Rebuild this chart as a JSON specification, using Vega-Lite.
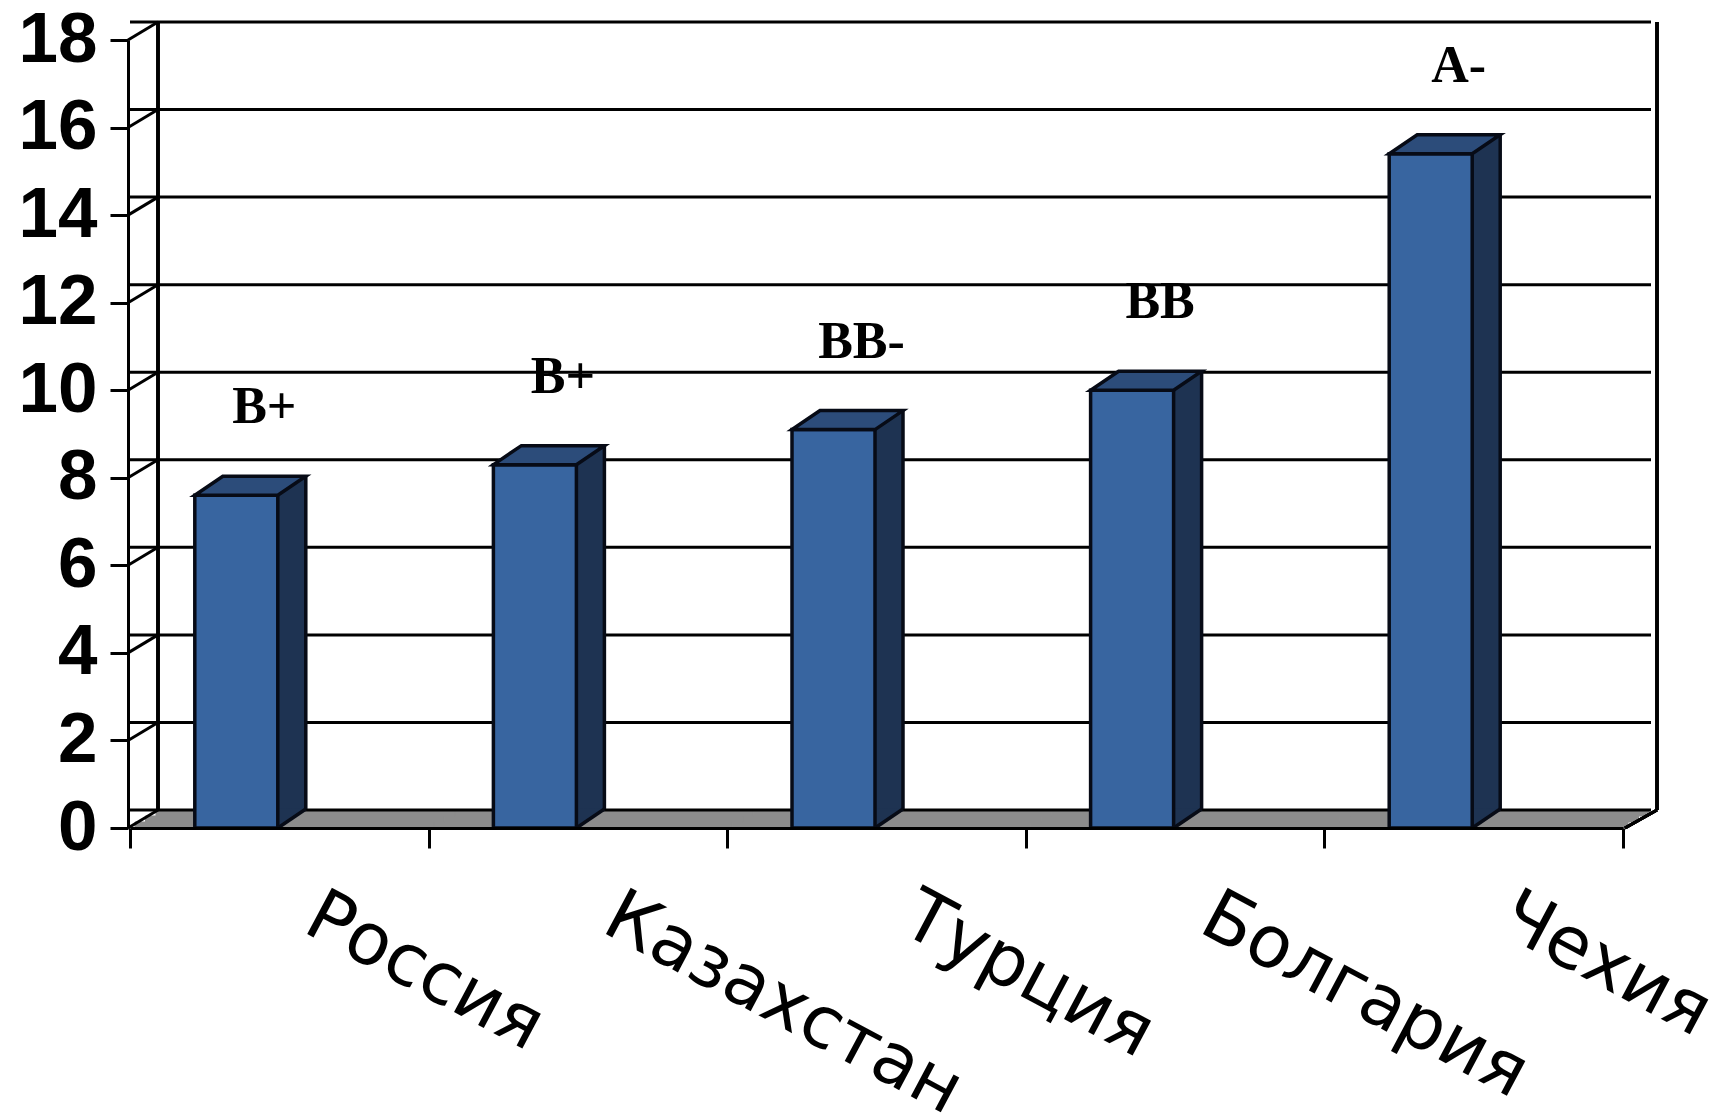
{
  "$schema": "https://vega.github.io/schema/vega-lite/v6.json",
  "autosize": "none",
  "width": 1493,
  "height": 788,
  "padding": {"left": 130, "top": 40, "right": 106, "bottom": 285},
  "background": "#ffffff",
  "config": {"view": {"stroke": null}, "axis": {"grid": false}},
  "datasets": {
    "ratings": [
      {"country": "Россия", "value": 7.6, "rating": "B+"},
      {"country": "Казахстан", "value": 8.3, "rating": "B+"},
      {"country": "Турция", "value": 9.1, "rating": "BB-"},
      {"country": "Болгария", "value": 10.0, "rating": "BB"},
      {"country": "Чехия", "value": 15.4, "rating": "A-"}
    ],
    "ticks": [
      {"t": 0}, {"t": 2}, {"t": 4}, {"t": 6}, {"t": 8},
      {"t": 10}, {"t": 12}, {"t": 14}, {"t": 16}, {"t": 18}
    ]
  },
  "data": {"name": "ratings"},
  "layer": [
    {
      "mark": {"type": "rect", "fill": "#8c8c8c", "stroke": "#8c8c8c", "strokeWidth": 1, "yOffset": 0, "y2Offset": -6, "xOffset": 5, "x2Offset": 5},
      "encoding": {
        "x": {"field": "country", "type": "nominal", "sort": null},
        "y": {"datum": 0, "type": "quantitative"},
        "y2": {"datum": 0}
      }
    },
    {
      "mark": {"type": "rect", "fill": "#8c8c8c", "stroke": "#8c8c8c", "strokeWidth": 1, "yOffset": -6, "y2Offset": -12, "xOffset": 15.5, "x2Offset": 15.5},
      "encoding": {
        "x": {"field": "country", "type": "nominal", "sort": null},
        "y": {"datum": 0, "type": "quantitative"},
        "y2": {"datum": 0}
      }
    },
    {
      "mark": {"type": "rect", "fill": "#8c8c8c", "stroke": "#8c8c8c", "strokeWidth": 1, "yOffset": -12, "y2Offset": -18, "xOffset": 26, "x2Offset": 26},
      "encoding": {
        "x": {"field": "country", "type": "nominal", "sort": null},
        "y": {"datum": 0, "type": "quantitative"},
        "y2": {"datum": 0}
      }
    },
    {
      "data": {"name": "ticks"},
      "mark": {"type": "rule", "color": "#000000", "strokeWidth": 3, "xOffset": 28, "x2Offset": 34, "yOffset": -18},
      "encoding": {
        "y": {"field": "t", "type": "quantitative"}
      }
    },
    {
      "data": {"name": "ticks"},
      "mark": {"type": "point", "shape": "M -2 0 L 28 -18", "size": 4, "filled": false, "stroke": "#000000", "strokeWidth": 3, "opacity": 1},
      "encoding": {
        "x": {"datum": "Россия", "type": "nominal", "bandPosition": 0},
        "y": {"field": "t", "type": "quantitative"}
      }
    },
    {
      "mark": {"type": "point", "shape": "M 2 0 L 34 -18", "size": 4, "filled": false, "stroke": "#000000", "strokeWidth": 3, "opacity": 1},
      "encoding": {
        "x": {"datum": "Чехия", "type": "nominal", "bandPosition": 1},
        "y": {"datum": 0, "type": "quantitative"}
      }
    },
    {
      "mark": {"type": "rule", "color": "#000000", "strokeWidth": 3, "xOffset": 28, "yOffset": -18, "y2Offset": -18},
      "encoding": {
        "x": {"datum": "Россия", "type": "nominal", "bandPosition": 0},
        "y": {"datum": 0, "type": "quantitative"},
        "y2": {"datum": 18}
      }
    },
    {
      "mark": {"type": "rule", "color": "#000000", "strokeWidth": 3, "xOffset": 34, "yOffset": -18, "y2Offset": -18},
      "encoding": {
        "x": {"datum": "Чехия", "type": "nominal", "bandPosition": 1},
        "y": {"datum": 0, "type": "quantitative"},
        "y2": {"datum": 18}
      }
    },
    {
      "mark": {"type": "bar", "width": 28, "xOffset": 12.5, "yOffset": -19, "y2Offset": -19, "fill": "#1e3352"},
      "encoding": {
        "x": {"field": "country", "type": "nominal", "sort": null},
        "y": {"field": "value", "type": "quantitative"},
        "y2": {"datum": 0}
      }
    },
    {
      "mark": {"type": "point", "shape": "M -2.5 0.5 L 26.5 -19 L -2.5 -19.5 Z", "size": 4, "filled": true, "fill": "#1e3352", "strokeWidth": 0, "opacity": 1},
      "encoding": {
        "x": {"field": "country", "type": "nominal", "sort": null},
        "y": {"datum": 0, "type": "quantitative"}
      }
    },
    {
      "mark": {"type": "rule", "color": "#070b16", "strokeWidth": 3.5, "xOffset": 26.5, "yOffset": -19, "y2Offset": -19},
      "encoding": {
        "x": {"field": "country", "type": "nominal", "sort": null},
        "y": {"field": "value", "type": "quantitative"},
        "y2": {"datum": 0}
      }
    },
    {
      "mark": {"type": "point", "shape": "M -1.5 0 L 26.5 -19", "size": 4, "filled": false, "stroke": "#070b16", "strokeWidth": 3.5, "opacity": 1},
      "encoding": {
        "x": {"field": "country", "type": "nominal", "sort": null},
        "y": {"datum": 0, "type": "quantitative"}
      }
    },
    {
      "mark": {"type": "bar", "width": 83, "xOffset": -43, "fill": "#3865a0", "stroke": "#070b16", "strokeWidth": 3.5},
      "encoding": {
        "x": {
          "field": "country", "type": "nominal", "sort": null, "title": null,
          "scale": {"paddingInner": 0, "paddingOuter": 0},
          "axis": {
            "zindex": 1, "tickBand": "extent",
            "domainColor": "#000000", "domainWidth": 3,
            "tickColor": "#000000", "tickWidth": 3, "tickSize": 20,
            "labelAngle": 28, "labelAlign": "left", "labelBaseline": "top",
            "labelOffset": 48, "labelPadding": 32,
            "labelFont": "DejaVu Sans", "labelFontSize": 72, "labelColor": "#000000",
            "labelLimit": 3000, "labelOverlap": false, "labelBound": false
          }
        },
        "y": {
          "field": "value", "type": "quantitative", "title": null,
          "scale": {"domain": [0, 18], "nice": false},
          "axis": {
            "zindex": 1, "values": [0, 2, 4, 6, 8, 10, 12, 14, 16, 18], "offset": 2,
            "domainColor": "#000000", "domainWidth": 3,
            "tickColor": "#000000", "tickWidth": 3, "tickSize": 18,
            "labelPadding": 13, "labelFont": "Liberation Sans", "labelFontWeight": "bold",
            "labelFontSize": 71, "labelColor": "#000000"
          }
        },
        "y2": {"datum": 0}
      }
    },
    {
      "mark": {"type": "point", "shape": "M -84.5 0 L -1.5 0 L 26.5 -19 L -56.5 -19 Z", "size": 4, "filled": true, "fill": "#2c4c7a", "stroke": "#070b16", "strokeWidth": 3.5, "opacity": 1},
      "encoding": {
        "x": {"field": "country", "type": "nominal", "sort": null},
        "y": {"field": "value", "type": "quantitative"}
      }
    },
    {
      "mark": {"type": "text", "font": "Liberation Serif", "fontWeight": "bold", "fontSize": 52, "dx": -15, "dy": -88, "align": "center", "baseline": "middle", "color": "#000000"},
      "encoding": {
        "x": {"field": "country", "type": "nominal", "sort": null},
        "y": {"field": "value", "type": "quantitative"},
        "text": {"field": "rating"}
      }
    }
  ]
}
